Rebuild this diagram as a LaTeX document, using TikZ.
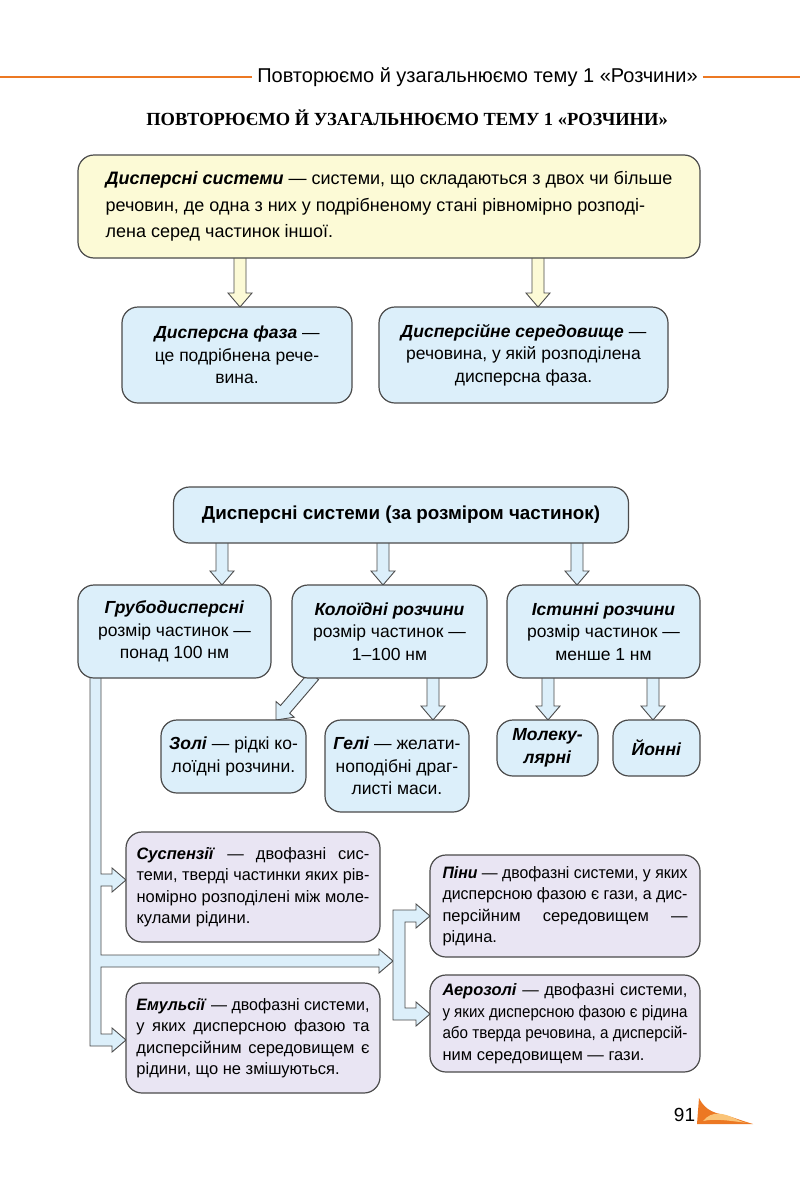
\documentclass[tikz,border=0pt]{standalone}
\usepackage{fontspec}
\setmainfont{Liberation Sans}
\newfontfamily\titlefont{Liberation Serif}
\usepackage{xcolor}
\usepackage{graphicx}
\usetikzlibrary{calc}
\usetikzlibrary{positioning, backgrounds}

\definecolor{boxline}{RGB}{75,75,75}
\definecolor{yellowfill}{RGB}{252,250,214}
\definecolor{bluefill}{RGB}{220,239,250}
\definecolor{lilacfill}{RGB}{233,229,243}
\definecolor{pageorange}{RGB}{236,120,35}
\definecolor{lightorange}{RGB}{250,196,120}

\hyphenpenalty=10000
\exhyphenpenalty=10000

\newcommand{\bi}[1]{\textbf{\textit{#1}}}
\newsavebox\linebox
% one justified line of a box
\newcommand{\fitline}[2]{\sbox\linebox{#2}%
  \ifdim\wd\linebox>#1\resizebox{#1}{\height}{\usebox\linebox}\else\makebox[#1][s]{#2}\fi}
% hollow block arrow from #2 to #3
\newcommand{\blockarrow}[3][bluefill]{%
  \draw[block line,fill=#1]
    let \p1=($(#2)!-3pt!(#3)$), \p2=(#3), \p3=($(#3)!14pt!(#2)$) in
    ($(\p1)!6pt!90:(\p2)$) -- ($(\p3)!6pt!90:(\p2)$) -- ($(\p3)!12pt!90:(\p2)$) -- (\p2)
    -- ($(\p3)!12pt!-90:(\p2)$) -- ($(\p3)!6pt!-90:(\p2)$) -- ($(\p1)!6pt!-90:(\p2)$) -- cycle;}

\begin{document}
\begin{tikzpicture}[x=1pt,y=-1pt,
    box/.style={draw=boxline,line width=1.2pt,rounded corners=16pt,inner sep=0pt,outer sep=0pt,
                font=\fontsize{17.5}{22.5}\selectfont},
    yellow box/.style={box,fill=yellowfill,align=left,font=\fontsize{18}{26.5}\selectfont},
    blue box/.style={box,fill=bluefill,align=center},
    lilac box/.style={box,fill=lilacfill,align=left,font=\fontsize{16.5}{21.5}\selectfont},
    block line/.style={draw=boxline,line width=0.9pt,line join=miter},
    header line/.style={draw=pageorange,line width=2pt},
    boxsize/.style 2 args={minimum width=#1pt,minimum height=#2pt}]

  \useasboundingbox (0,0) rectangle (800,1186);

  % page head
  \node[font=\fontsize{20}{22}\selectfont,inner xsep=5pt] (head) at (477.5,77)
    {Повторюємо й узагальнюємо тему 1 «Розчини»};
  \draw[header line] (0,77) -- (head.west);
  \draw[header line] (head.east) -- (800,77);
  \node[font=\titlefont\bfseries\fontsize{18.5}{22}\selectfont] (title) at (407,118)
    {ПОВТОРЮЄМО Й УЗАГАЛЬНЮЄМО ТЕМУ 1 «РОЗЧИНИ»};

  % definition
  \node[yellow box,boxsize={622}{103}] (defn) at (389,206.5)
    {\bi{Дисперсні системи} — системи, що складаються з двох чи більше\\
     речовин, де одна з них у подрібненому стані рівномірно розподі-\\
     лена серед частинок іншої.};
  \node[blue box,boxsize={230}{96}] (phase) at (237,355)
    {\bi{Дисперсна фаза} —\\це подрібнена рече-\\вина.};
  \node[blue box,boxsize={289}{96}] (medium) at (523.5,355)
    {\bi{Дисперсійне середовище} —\\речовина, у якій розподілена\\дисперсна фаза.};

  % by particle size
  \node[blue box,boxsize={455}{56},font=\fontsize{18.8}{22}\selectfont\bfseries] (bysize) at (401,515)
    {Дисперсні системи (за розміром частинок)};
  \node[blue box,boxsize={193}{93}] (grub) at (174.5,631.5)
    {\bi{Грубодисперсні}\\розмір частинок —\\понад 100 нм};
  \node[blue box,boxsize={195}{93}] (kol) at (389.5,631.5)
    {\bi{Колоїдні розчини}\\розмір частинок —\\1–100 нм};
  \node[blue box,boxsize={193}{93}] (ist) at (603.5,631.5)
    {\bi{Істинні розчини}\\розмір частинок —\\менше 1 нм};

  \node[blue box,boxsize={145}{73}] (zoli) at (233.5,756.5)
    {\bi{Золі} — рідкі ко-\\лоїдні розчини.};
  \node[blue box,boxsize={144}{92}] (geli) at (397,766)
    {\bi{Гелі} — желати-\\ноподібні драг-\\листі маси.};
  \node[blue box,boxsize={101}{56}] (mol) at (547.5,748)
    {\bi{Молеку-}\\\bi{лярні}};
  \node[blue box,boxsize={87}{56}] (yon) at (656.5,748)
    {\bi{Йонні}};

  % coarse systems
  \node[lilac box,boxsize={254}{110}] (susp) at (253,887)
    {\fitline{233pt}{\bi{Суспензії} — двофазні сис-}\\
     \fitline{233pt}{теми, тверді частинки яких рів-}\\
     \fitline{233pt}{номірно розподілені між моле-}\\
     кулами рідини.};
  \node[lilac box,boxsize={254}{110}] (emul) at (253,1038)
    {\fitline{233pt}{\bi{Емульсії} — двофазні системи,}\\
     \fitline{233pt}{у яких дисперсною фазою та}\\
     \fitline{233pt}{дисперсійним середовищем є}\\
     рідини, що не змішуються.};
  \node[lilac box,boxsize={270}{102}] (pini) at (565,906)
    {\fitline{245pt}{\bi{Піни} — двофазні системи, у яких}\\
     \fitline{245pt}{дисперсною фазою є гази, а дис-}\\
     \fitline{245pt}{персійним середовищем —}\\
     рідина.};
  \node[lilac box,boxsize={270}{97}] (aero) at (565,1023.5)
    {\fitline{245pt}{\bi{Аерозолі} — двофазні системи,}\\
     \fitline{245pt}{у яких дисперсною фазою є рідина}\\
     \fitline{245pt}{або тверда речовина, а дисперсій-}\\
     ним середовищем — гази.};

  \coordinate (xa) at (240,0);
  \coordinate (xb) at (538,0);
  \coordinate (xc) at (222,0);
  \coordinate (xd) at (383,0);
  \coordinate (xe) at (577,0);
  \coordinate (xf) at (433,0);
  \coordinate (xg) at (548,0);
  \coordinate (xh) at (653,0);
  \coordinate (xk) at (312,0);
  \coordinate (xl) at (276,0);

  \begin{scope}[on background layer]
    \fill[white] (0,0) rectangle (800,1186);
    \blockarrow[yellowfill]{xa |- defn.south}{xa |- phase.north}
    \blockarrow[yellowfill]{xb |- defn.south}{xb |- medium.north}
    \blockarrow{xc |- bysize.south}{xc |- grub.north}
    \blockarrow{xd |- bysize.south}{xd |- kol.north}
    \blockarrow{xe |- bysize.south}{xe |- ist.north}
    \blockarrow{xk |- kol.south}{xl |- zoli.north}
    \blockarrow{xf |- kol.south}{xf |- geli.north}
    \blockarrow{xg |- ist.south}{xg |- mol.north}
    \blockarrow{xh |- ist.south}{xh |- yon.north}
    % band from coarse systems
    \draw[block line,fill=bluefill] (90,675) -- (90,1046) -- (112,1046) -- (112,1052) -- (126,1040)
      -- (112,1028) -- (112,1034) -- (101,1034) -- (101,967) -- (379,967) -- (379,973)
      -- (393,961) -- (379,949) -- (379,955) -- (101,955) -- (101,886) -- (112,886)
      -- (112,892) -- (126,880) -- (112,868) -- (112,874) -- (101,874) -- (101,675) -- cycle;
    \draw[block line,fill=bluefill] (393,910) -- (416,910) -- (416,904) -- (430,916)
      -- (416,928) -- (416,922) -- (405,922) -- (405,1008) -- (416,1008) -- (416,1002)
      -- (430,1014) -- (416,1026) -- (416,1020) -- (393,1020) -- cycle;
  \end{scope}

  % page number
  \node[font=\fontsize{19}{22}\selectfont] (pagenum) at (684.5,1115) {91};
  \fill[pageorange] (697,1124) -- (699,1098) .. controls (706,1112) and (716,1113) .. (728,1116)
    .. controls (738,1119) and (746,1122) .. (753,1124) -- cycle;
  \fill[lightorange] (703,1121) .. controls (712,1110) and (724,1113) .. (736,1119)
    .. controls (742,1122) and (746,1123) .. (748,1123) .. controls (730,1121) and (715,1118) .. (703,1121) -- cycle;
\end{tikzpicture}
\end{document}
